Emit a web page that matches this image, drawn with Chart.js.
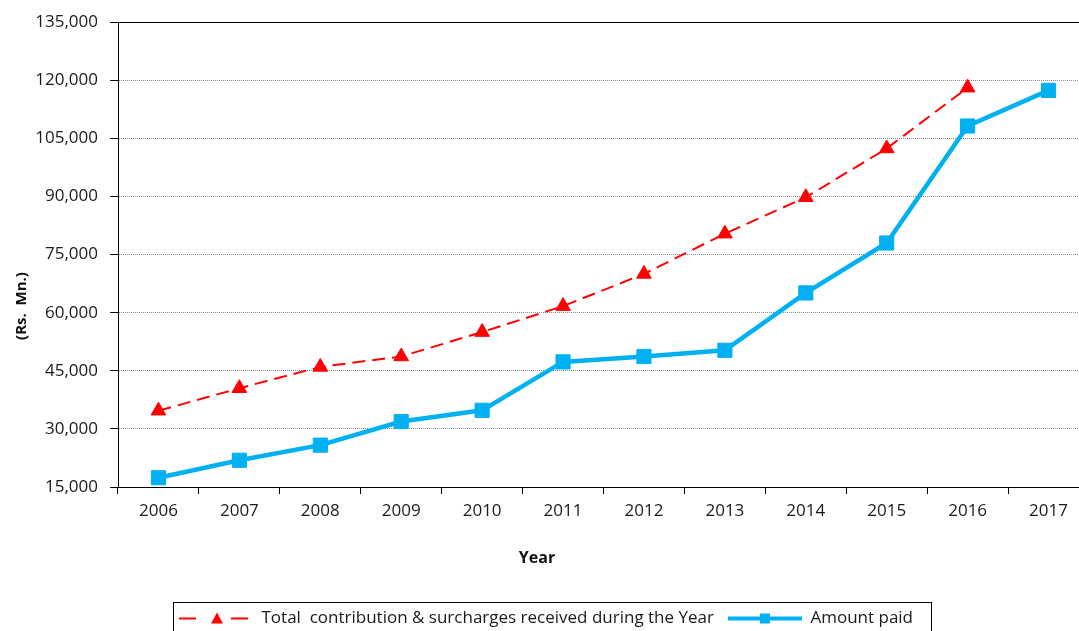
<!DOCTYPE html>
<html lang="en">
<head>
    <meta charset="UTF-8">
    <title>Contribution and Amount Paid</title>
    <script src="https://cdn.jsdelivr.net/npm/chart.js@4.4.1/dist/chart.umd.min.js"></script>
    <style>
        html, body {
            margin: 0;
            padding: 0;
            overflow: hidden;
            background: #fff;
        }
        #grafico {
            display: block;
        }
    </style>
</head>
<body>
    <canvas id="grafico" width="1100" height="647"></canvas>

    <script>
        // dados
        const years = ['2006', '2007', '2008', '2009', '2010', '2011', '2012', '2013', '2014', '2015', '2016', '2017'];
        const contribution = [34700, 40500, 46000, 48700, 55000, 61700, 70000, 80400, 89800, 102400, 118100, null];
        const amountPaid = [17400, 21900, 25800, 31900, 34800, 47300, 48700, 50300, 65100, 78000, 108200, 117400];
        const yTicks = [15000, 30000, 45000, 60000, 75000, 90000, 105000, 120000, 135000];

        const labelsFont = 'Open Sans';

        // amostras da legenda (linha + marcador)
        function legendSample(color, width, dash, marker) {
            const c = document.createElement('canvas');
            c.width = 74;
            c.height = 16;
            const g = c.getContext('2d');
            g.strokeStyle = color;
            g.fillStyle = color;
            g.lineWidth = width;
            g.setLineDash(dash);
            g.beginPath();
            g.moveTo(0, 8);
            g.lineTo(74, 8);
            g.stroke();
            if (marker === 'triangle') {
                g.beginPath();
                g.moveTo(38, 2);
                g.lineTo(44, 13);
                g.lineTo(32, 13);
                g.closePath();
                g.fill();
            } else {
                g.fillRect(32, 3, 10, 10);
            }
            return c;
        }

        const redSample = legendSample('#FF0000', 2, [17, 35], 'triangle');
        const blueSample = legendSample('#00B0F0', 4, [], 'rect');

        // moldura em volta da legenda + títulos dos eixos
        const extras = {
            id: 'extras',
            afterDraw(chart) {
                const ctx = chart.ctx;
                const lg = chart.legend;
                if (lg && lg.legendHitBoxes.length) {
                    const boxes = lg.legendHitBoxes;
                    const first = boxes[0];
                    const last = boxes[boxes.length - 1];
                    const cy = first.top + first.height / 2;
                    ctx.save();
                    ctx.strokeStyle = '#000';
                    ctx.lineWidth = 1;
                    ctx.strokeRect(Math.round(first.left - 6) + 0.5, Math.round(cy - 17) + 0.5,
                        Math.round(last.left + last.width - first.left + 24), 40);
                    ctx.restore();
                }
                ctx.save();
                ctx.font = 'bold 16px "' + labelsFont + '"';
                ctx.fillStyle = '#111';
                ctx.textAlign = 'center';
                ctx.textBaseline = 'middle';
                ctx.fillText('Year', 537, 558);
                ctx.font = 'bold 15px "' + labelsFont + '"';
                ctx.translate(22, 306);
                ctx.rotate(-Math.PI / 2);
                ctx.fillText('(Rs.  Mn.)', 0, 0);
                ctx.restore();
            }
        };

        const ctx = document.getElementById('grafico').getContext('2d');
        const chart = new Chart(ctx, {
            type: 'line',
            data: {
                labels: years,
                datasets: [{
                    label: 'Total  contribution & surcharges received during the Year',
                    data: contribution,
                    borderColor: '#FF0000',
                    backgroundColor: '#FF0000',
                    borderWidth: 2,
                    borderDash: [13, 7],
                    pointStyle: 'triangle',
                    pointRadius: 8.5,
                    pointBorderWidth: 1,
                    tension: 0
                }, {
                    label: 'Amount paid',
                    data: amountPaid,
                    borderColor: '#00B0F0',
                    backgroundColor: '#00B0F0',
                    borderWidth: 4.5,
                    pointStyle: 'rect',
                    pointRadius: 10,
                    pointBorderWidth: 1,
                    tension: 0
                }]
            },
            options: {
                responsive: false,
                animation: false,
                layout: {
                    padding: { top: 21, right: 8, left: 0, bottom: 10 }
                },
                plugins: {
                    tooltip: { enabled: false },
                    title: { display: false },
                    legend: {
                        position: 'bottom',
                        labels: {
                            usePointStyle: true,
                            pointStyleWidth: 74,
                            padding: 14,
                            color: '#1a1a1a',
                            font: { family: labelsFont, size: 17 },
                            generateLabels(ch) {
                                return ch.data.datasets.map((ds, i) => ({
                                    text: ds.label,
                                    pointStyle: i === 0 ? redSample : blueSample,
                                    fillStyle: ds.borderColor,
                                    strokeStyle: ds.borderColor,
                                    lineWidth: 0,
                                    fontColor: '#1a1a1a',
                                    hidden: false,
                                    datasetIndex: i
                                }));
                            }
                        }
                    }
                },
                scales: {
                    x: {
                        offset: true,
                        afterFit(s) { s.height = 109; },
                        grid: {
                            offset: true,
                            drawOnChartArea: false,
                            drawTicks: true,
                            tickLength: 7,
                            tickColor: '#000'
                        },
                        border: { color: '#000', width: 1 },
                        ticks: {
                            color: '#1a1a1a',
                            padding: 7,
                            maxRotation: 0,
                            font: { family: labelsFont, size: 17 }
                        },
                        title: { display: false }
                    },
                    y: {
                        min: 15000,
                        max: 135000,
                        afterFit(s) { s.width = 118; },
                        afterBuildTicks(s) {
                            s.ticks = yTicks.map(v => ({ value: v }));
                        },
                        grid: {
                            color: c => c.tick && c.tick.value === 135000 ? '#000' : '#8a8a8a',
                            lineWidth: 1,
                            tickLength: 8,
                            tickColor: '#000',
                            tickBorderDash: []
                        },
                        border: {
                            color: '#000',
                            width: 1,
                            dash: c => c.tick && c.tick.value === 135000 ? [] : [1, 1]
                        },
                        ticks: {
                            color: '#1a1a1a',
                            padding: 12,
                            font: { family: labelsFont, size: 17 },
                            callback: v => v.toLocaleString('en-US')
                        },
                        title: { display: false }
                    }
                }
            },
            plugins: [extras]
        });
    </script>
</body>
</html>
